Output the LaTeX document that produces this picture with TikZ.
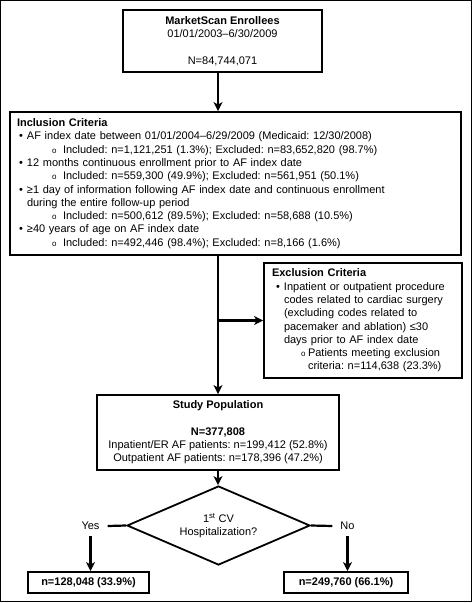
\documentclass[tikz,border=0pt]{standalone}
\usepackage{fontspec}
\setmainfont{Liberation Sans}
\usetikzlibrary{arrows.meta,shapes.geometric}
\frenchspacing
\newcommand{\fs}{\fontsize{11}{13.3}\selectfont\frenchspacing}
\tikzset{
  box/.style={draw, line width=1.8pt, inner sep=0pt, font=\fs},
  arr/.style={line width=2.2pt, -{Stealth[length=9pt,width=9pt,inset=2.5pt]}},
  ln/.style={line width=2.2pt},
  lbl/.style={font=\fs, inner xsep=8pt, inner ysep=6pt},
}
\newcommand{\oneline}[1]{\mbox{#1}}
\newcommand{\bul}{\makebox[10pt][l]{\hspace*{2pt}•}}
\newcommand{\smallo}{{\fontsize{8}{8}\selectfont o}}
\newcommand{\sub}{\hspace*{35pt}\makebox[11pt][l]{\smallo}}
\begin{document}
\begin{tikzpicture}[x=1pt,y=-1pt]
\useasboundingbox (0,0) rectangle (473,603);
\draw[line width=1pt] (0.8,0.8) rectangle (471.5,601.5);
\coordinate (spine) at (218,0);

\node[box, minimum width=199pt, minimum height=62pt, align=center] (top) at (222.5,41)
  {\textbf{MarketScan Enrollees}\\01/01/2003–6/30/2009\\\mbox{}\\N=84,744,071};

\node[box, minimum width=451pt, minimum height=143pt, text width=437pt, inner xsep=7pt, align=left] (incl) at (235.5,183.5)
  {\oneline{\textbf{Inclusion Criteria}}\\
   \oneline{\bul AF index date between 01/01/2004–6/29/2009 (Medicaid: 12/30/2008)}\\
   \oneline{\sub Included: n=1,121,251 (1.3\%); Excluded: n=83,652,820 (98.7\%)}\\
   \oneline{\bul 12 months continuous enrollment prior to AF index date}\\
   \oneline{\sub Included: n=559,300 (49.9\%); Excluded: n=561,951 (50.1\%)}\\
   \oneline{\bul ≥1 day of information following AF index date and continuous enrollment}\\
   \oneline{\hspace*{10pt}during the entire follow-up period}\\
   \oneline{\sub Included: n=500,612 (89.5\%); Excluded: n=58,688 (10.5\%)}\\
   \oneline{\bul ≥40 years of age on AF index date}\\
   \oneline{\sub Included: n=492,446 (98.4\%); Excluded: n=8,166 (1.6\%)}};

\node[box, minimum width=198pt, minimum height=115pt, text width=182pt, inner xsep=8pt, align=left] (excl) at (363,320.5)
  {\oneline{\textbf{Exclusion Criteria}}\\
   \oneline{\makebox[12pt][l]{\hspace*{4pt}•}Inpatient or outpatient procedure}\\
   \oneline{\hspace*{12pt}codes related to cardiac surgery}\\
   \oneline{\hspace*{12pt}(excluding codes related to}\\
   \oneline{\hspace*{12pt}pacemaker and ablation) ≤30}\\
   \oneline{\hspace*{12pt}days prior to AF index date}\\
   \oneline{\hspace*{29pt}\makebox[7pt][l]{\smallo}Patients meeting exclusion}\\
   \oneline{\hspace*{36pt}criteria: n=114,638 (23.3\%)}};

\node[box, minimum width=242pt, minimum height=75pt, align=center] (study) at (218,432.5)
  {\textbf{Study Population}\\\mbox{}\\\textbf{N=377,808}\\
   Inpatient/ER AF patients: n=199,412 (52.8\%)\\
   Outpatient AF patients: n=178,396 (47.2\%)};

\node[draw, line width=1.8pt, diamond, aspect=2.3, inner sep=0pt, minimum width=183pt, minimum height=79pt,
      align=center, font=\fs] (dia) at (218.5,525.5)
  {1\textsuperscript{st} CV\\Hospitalization?};

\node[lbl] (yes) at (90.5,526) {Yes};
\node[lbl] (no) at (347.5,526) {No};

\node[box, minimum width=121pt, minimum height=21pt, font=\bfseries\fs] (ybox) at (88.5,582.5) {n=128,048 (33.9\%)};
\node[box, minimum width=124pt, minimum height=21pt, font=\bfseries\fs] (nbox) at (346,582.5) {n=249,760 (66.1\%)};

\draw[arr] (top.south -| spine) -- (incl.north -| spine);
\draw[arr] (incl.south -| spine) -- (study.north -| spine);
\draw[arr] (excl.west -| spine) -- (excl.west);
\draw[arr] (study.south -| spine) -- (dia.north -| spine);
\draw[ln] (dia.west) -- (yes.east);
\draw[ln] (dia.east) -- (no.west);
\draw[arr] (yes.south) -- (ybox.north -| yes);
\draw[arr] (no.south) -- (nbox.north -| no);
\end{tikzpicture}
\end{document}
